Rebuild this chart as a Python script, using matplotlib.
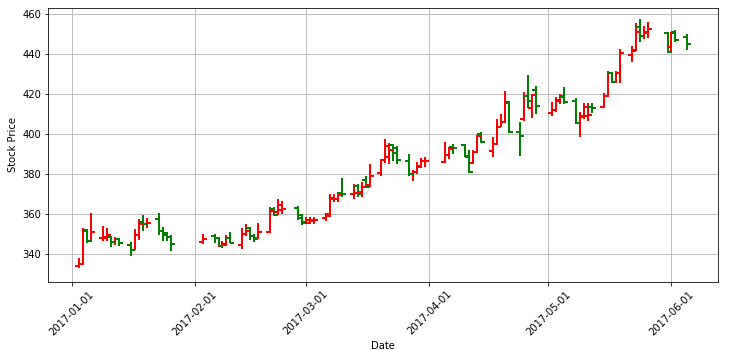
import matplotlib
matplotlib.use("Agg")
import matplotlib.pyplot as plt
import matplotlib.dates as mdates
from matplotlib.lines import TICKLEFT, TICKRIGHT
import pandas as pd

# daily prices (some business days are missing)
dates = [
    "2017-01-03", "2017-01-04", "2017-01-05", "2017-01-06",
    "2017-01-09", "2017-01-10", "2017-01-11", "2017-01-12", "2017-01-13",
    "2017-01-16", "2017-01-17", "2017-01-18", "2017-01-19", "2017-01-20",
    "2017-01-23", "2017-01-24", "2017-01-25", "2017-01-26",
    "2017-02-03",
    "2017-02-06", "2017-02-07", "2017-02-08", "2017-02-09", "2017-02-10",
    "2017-02-13", "2017-02-14", "2017-02-15", "2017-02-16", "2017-02-17",
    "2017-02-20", "2017-02-21", "2017-02-22", "2017-02-23",
    "2017-02-27", "2017-02-28", "2017-03-01", "2017-03-02", "2017-03-03",
    "2017-03-06", "2017-03-07", "2017-03-08", "2017-03-09", "2017-03-10",
    "2017-03-13", "2017-03-14", "2017-03-15", "2017-03-16", "2017-03-17",
    "2017-03-20", "2017-03-21", "2017-03-22", "2017-03-23", "2017-03-24",
    "2017-03-27", "2017-03-28", "2017-03-29", "2017-03-30", "2017-03-31",
    "2017-04-05", "2017-04-06", "2017-04-07",
    "2017-04-10", "2017-04-11", "2017-04-12", "2017-04-13", "2017-04-14",
    "2017-04-17", "2017-04-18", "2017-04-19", "2017-04-20", "2017-04-21",
    "2017-04-24", "2017-04-25", "2017-04-26", "2017-04-27", "2017-04-28",
    "2017-05-02", "2017-05-03", "2017-05-04", "2017-05-05",
    "2017-05-08", "2017-05-09", "2017-05-10", "2017-05-11", "2017-05-12",
    "2017-05-15", "2017-05-16", "2017-05-17", "2017-05-18", "2017-05-19",
    "2017-05-22", "2017-05-23", "2017-05-24", "2017-05-25", "2017-05-26",
    "2017-05-31", "2017-06-01", "2017-06-02",
    "2017-06-05",
]

opens = [
    333.8, 334.6, 351.2, 346.3,
    347.6, 347.9, 348.1, 345.9, 347.1,
    344.3, 342.0, 349.3, 355.8, 354.8,
    357.1, 351.3, 350.1, 348.1,
    345.9,
    348.6, 347.9, 343.8, 344.6, 348.0,
    344.3, 349.6, 352.6, 348.8, 347.6,
    350.6, 362.1, 360.7, 361.8,
    362.9, 359.2, 355.6, 355.4, 356.4,
    357.6, 358.9, 367.1, 367.3, 370.3,
    369.8, 373.9, 370.6, 376.8, 374.3,
    380.1, 386.8, 388.5, 394.3, 392.6,
    386.3, 379.6, 380.6, 383.4, 386.1,
    385.8, 389.3, 393.1,
    394.3, 388.4, 385.4, 390.9, 399.8,
    391.3, 394.8, 403.3, 405.9, 415.4,
    400.6, 407.5, 418.6, 413.0, 421.8,
    410.5, 411.8, 416.5, 419.0,
    416.3, 405.1, 408.4, 408.8, 413.4,
    413.4, 418.8, 430.4, 426.0, 430.1,
    439.3, 441.8, 453.4, 448.9, 450.4,
    450.1, 443.4, 450.9,
    448.1,
]

highs = [
    337.6, 352.6, 352.2, 360.3,
    353.8, 352.6, 348.8, 348.1, 347.6,
    345.6, 352.3, 357.1, 359.3, 358.0,
    360.4, 353.1, 350.9, 349.3,
    349.6,
    349.6, 348.4, 346.3, 349.3, 350.8,
    352.9, 354.6, 353.1, 349.6, 355.1,
    363.1, 363.1, 367.1, 366.3,
    363.8, 359.8, 358.4, 358.4, 358.4,
    360.1, 369.6, 369.6, 370.6, 377.6,
    374.8, 374.8, 375.6, 378.8, 385.0,
    387.4, 397.3, 395.3, 394.6, 393.8,
    389.7, 381.8, 385.9, 387.6, 388.1,
    395.9, 393.4, 394.6,
    394.6, 391.8, 391.8, 399.3, 400.8,
    398.4, 407.1, 409.8, 421.3, 416.3,
    405.8, 420.9, 429.3, 420.0, 423.8,
    415.9, 418.5, 420.0, 423.4,
    417.6, 410.9, 415.4, 415.4, 415.4,
    420.4, 431.4, 430.9, 431.3, 442.1,
    444.0, 455.3, 457.2, 453.6, 456.0,
    451.0, 450.8, 451.8,
    449.8,
]

lows = [
    332.8, 334.2, 345.2, 345.8,
    346.4, 346.4, 343.4, 344.2, 343.9,
    338.9, 341.8, 346.8, 351.4, 353.0,
    349.3, 346.4, 346.3, 341.3,
    344.8,
    345.1, 343.1, 342.6, 343.9, 345.1,
    342.3, 348.9, 346.8, 345.6, 347.4,
    350.2, 358.9, 359.4, 359.6,
    356.8, 354.5, 354.8, 354.8, 355.0,
    356.4, 358.4, 365.6, 365.6, 368.4,
    367.3, 368.4, 368.4, 372.6, 373.4,
    378.8, 385.5, 384.9, 386.5, 384.9,
    378.8, 376.4, 379.8, 382.6, 383.4,
    385.2, 387.1, 389.7,
    388.1, 380.1, 384.8, 390.4, 395.1,
    388.4, 394.5, 403.1, 405.4, 400.1,
    388.8, 406.5, 413.0, 408.0, 409.8,
    408.8, 410.9, 414.8, 414.8,
    404.8, 398.1, 407.1, 406.4, 410.1,
    412.6, 418.1, 425.1, 425.1, 425.1,
    435.9, 441.5, 445.9, 447.4, 448.0,
    440.1, 440.9, 445.6,
    442.0,
]

closes = [
    334.6, 352.0, 346.2, 350.8,
    348.2, 349.2, 345.9, 347.1, 345.1,
    342.0, 349.3, 355.0, 355.0, 355.3,
    351.3, 349.3, 348.1, 344.6,
    347.3,
    347.9, 343.8, 344.3, 347.9, 345.1,
    349.6, 351.3, 348.8, 347.3, 350.6,
    361.5, 359.4, 364.3, 362.5,
    357.6, 355.4, 356.8, 357.0, 356.8,
    360.0, 367.6, 367.3, 369.3, 369.9,
    370.4, 369.6, 373.4, 373.4, 378.8,
    386.8, 394.0, 391.8, 390.3, 386.8,
    379.8, 380.9, 383.8, 386.3, 386.5,
    389.3, 392.2, 392.9,
    388.8, 380.9, 390.9, 398.8, 395.6,
    394.8, 403.1, 405.9, 415.9, 400.6,
    398.8, 418.8, 416.2, 419.5, 413.6,
    411.8, 417.0, 418.5, 416.0,
    405.4, 408.8, 413.1, 409.5, 413.0,
    418.8, 430.4, 426.0, 430.5, 440.4,
    441.5, 450.6, 448.6, 450.9, 452.1,
    440.9, 450.1, 446.9,
    444.8,
]

df = pd.DataFrame({"open": opens, "high": highs, "low": lows, "close": closes},
                  index=pd.to_datetime(dates))
x = mdates.date2num(df.index.to_pydatetime())

# red when the price went up, green when it went down
up = (df["close"] >= df["open"]).values
colors = ["red" if u else "green" for u in up]

fig = plt.figure(figsize=(729 / 72, 350 / 72), dpi=72)
ax = fig.add_axes([48 / 729, 68 / 350, 670 / 729, 274 / 350])
ax.set_axisbelow(True)

ax.vlines(x, df["low"], df["high"], colors=colors, linewidth=2, antialiased=False)
for mask, col in ((up, "red"), (~up, "green")):
    ax.plot(x[mask], df["open"].values[mask], linestyle="None", marker=TICKLEFT,
            markersize=4, markeredgewidth=2, color=col, antialiased=False)
    ax.plot(x[mask], df["close"].values[mask], linestyle="None", marker=TICKRIGHT,
            markersize=4, markeredgewidth=2, color=col, antialiased=False)

ax.xaxis.set_major_locator(mdates.MonthLocator())
ax.xaxis.set_major_formatter(mdates.DateFormatter("%Y-%m-%d"))
ax.set_xlim(mdates.date2num(pd.Timestamp("2016-12-26 02:00").to_pydatetime()),
            mdates.date2num(pd.Timestamp("2017-06-12 17:00").to_pydatetime()))
ax.set_ylim(325.8, 462.8)
plt.xticks(rotation=45)

ax.grid(True)
ax.set_xlabel("Date")
ax.set_ylabel("Stock Price")

fig.savefig("out.png", dpi=72)
